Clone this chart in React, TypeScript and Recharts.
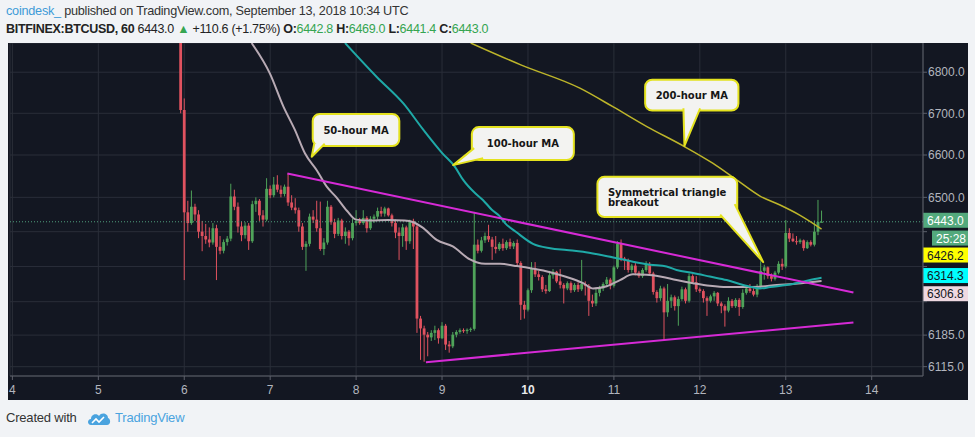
import React from 'react';
import {
  ComposedChart,
  Bar,
  Line,
  XAxis,
  YAxis,
  CartesianGrid,
  ReferenceLine,
  ReferenceDot,
} from 'recharts';

// hours are counted from Sep 4 00:00 UTC, one candle per hour
const dayLabels = ['4', '5', '6', '7', '8', '9', '10', '11', '12', '13', '14'];
const priceTicks = [6115, 6185, 6260, 6340, 6420, 6500, 6600, 6700, 6800];
// these labels sit under the price tags on the right, only their grid lines show
const coveredTicks = [6260, 6340, 6420];
const firstCandleHour = 47;

// [open, high, low, close]
const candles: number[][] = [
  [6960, 6965, 6700, 6708], [6708, 6736, 6309, 6465], [6465, 6492, 6420, 6440], [6440, 6516, 6436, 6478],
  [6478, 6485, 6445, 6460], [6460, 6470, 6405, 6420], [6420, 6445, 6375, 6410], [6410, 6438, 6392, 6402],
  [6402, 6430, 6384, 6395], [6395, 6440, 6390, 6428], [6428, 6436, 6309, 6385], [6385, 6410, 6368, 6376],
  [6376, 6402, 6370, 6396], [6396, 6410, 6388, 6404], [6404, 6532, 6398, 6502], [6502, 6518, 6470, 6478],
  [6478, 6488, 6418, 6432], [6432, 6444, 6398, 6412], [6412, 6442, 6404, 6434], [6434, 6440, 6378, 6398],
  [6398, 6492, 6394, 6484], [6484, 6500, 6466, 6492], [6492, 6496, 6445, 6458], [6458, 6470, 6432, 6448],
  [6448, 6545, 6444, 6520], [6520, 6528, 6498, 6505], [6505, 6548, 6500, 6530], [6530, 6552, 6512, 6518],
  [6518, 6528, 6500, 6508], [6508, 6530, 6502, 6525], [6525, 6556, 6480, 6488], [6488, 6505, 6470, 6476],
  [6476, 6498, 6462, 6470], [6470, 6476, 6420, 6432], [6432, 6440, 6378, 6385], [6385, 6398, 6330, 6392],
  [6392, 6462, 6386, 6455], [6455, 6470, 6440, 6448], [6448, 6492, 6420, 6428], [6428, 6490, 6376, 6380],
  [6380, 6405, 6366, 6395], [6395, 6492, 6390, 6478], [6478, 6482, 6436, 6442], [6442, 6450, 6405, 6415],
  [6415, 6452, 6410, 6446], [6446, 6450, 6402, 6410], [6410, 6430, 6392, 6420], [6420, 6424, 6388, 6405],
  [6405, 6450, 6400, 6440], [6440, 6470, 6434, 6445], [6445, 6452, 6436, 6440], [6440, 6470, 6436, 6452],
  [6452, 6456, 6418, 6428], [6428, 6456, 6424, 6450], [6450, 6460, 6440, 6455], [6455, 6476, 6448, 6468],
  [6468, 6478, 6455, 6462], [6462, 6478, 6455, 6474], [6474, 6476, 6455, 6458], [6458, 6462, 6432, 6440],
  [6440, 6448, 6405, 6418], [6418, 6430, 6355, 6410], [6410, 6438, 6385, 6430], [6430, 6434, 6378, 6398],
  [6398, 6448, 6392, 6445], [6445, 6450, 6380, 6432], [6432, 6438, 6190, 6222], [6222, 6228, 6130, 6200],
  [6200, 6206, 6126, 6186], [6186, 6192, 6138, 6180], [6180, 6196, 6172, 6190], [6190, 6206, 6174, 6196],
  [6196, 6200, 6166, 6178], [6178, 6214, 6176, 6206], [6206, 6210, 6152, 6164], [6164, 6172, 6146, 6160],
  [6160, 6192, 6156, 6186], [6186, 6196, 6180, 6192], [6192, 6200, 6188, 6196], [6196, 6200, 6190, 6194],
  [6194, 6200, 6188, 6197], [6197, 6202, 6192, 6199], [6199, 6466, 6195, 6390], [6390, 6402, 6370, 6376],
  [6376, 6408, 6372, 6400], [6400, 6418, 6394, 6410], [6410, 6436, 6396, 6402], [6402, 6408, 6355, 6385],
  [6385, 6410, 6370, 6380], [6380, 6396, 6376, 6392], [6392, 6404, 6376, 6382], [6382, 6400, 6378, 6396],
  [6396, 6404, 6380, 6386], [6386, 6398, 6380, 6394], [6394, 6402, 6340, 6348], [6348, 6352, 6219, 6253],
  [6253, 6262, 6222, 6242], [6242, 6290, 6238, 6286], [6286, 6350, 6280, 6336], [6336, 6350, 6316, 6322],
  [6322, 6330, 6308, 6316], [6316, 6320, 6282, 6288], [6288, 6298, 6278, 6284], [6284, 6330, 6282, 6320],
  [6320, 6334, 6312, 6328], [6328, 6330, 6302, 6306], [6306, 6334, 6290, 6298], [6298, 6302, 6256, 6290],
  [6290, 6306, 6286, 6302], [6302, 6306, 6280, 6286], [6286, 6302, 6282, 6298], [6298, 6304, 6282, 6288],
  [6288, 6355, 6284, 6300], [6300, 6306, 6274, 6296], [6296, 6300, 6228, 6262], [6262, 6276, 6248, 6256],
  [6256, 6292, 6250, 6280], [6280, 6296, 6272, 6290], [6290, 6304, 6284, 6300], [6300, 6316, 6294, 6310],
  [6310, 6314, 6288, 6296], [6296, 6342, 6292, 6338], [6338, 6398, 6334, 6392], [6392, 6402, 6352, 6358],
  [6358, 6362, 6332, 6354], [6354, 6358, 6326, 6332], [6332, 6346, 6326, 6342], [6342, 6350, 6320, 6326],
  [6326, 6330, 6314, 6318], [6318, 6336, 6314, 6332], [6332, 6352, 6328, 6346], [6346, 6350, 6320, 6324],
  [6324, 6328, 6276, 6282], [6282, 6286, 6258, 6268], [6268, 6296, 6262, 6290], [6290, 6294, 6174, 6236],
  [6236, 6300, 6226, 6262], [6262, 6276, 6246, 6270], [6270, 6274, 6240, 6250], [6250, 6272, 6206, 6266],
  [6266, 6294, 6262, 6288], [6288, 6292, 6256, 6262], [6262, 6324, 6258, 6318], [6318, 6322, 6300, 6304],
  [6304, 6318, 6282, 6288], [6288, 6292, 6280, 6284], [6284, 6288, 6258, 6268], [6268, 6272, 6228, 6262],
  [6262, 6276, 6258, 6272], [6272, 6284, 6262, 6280], [6280, 6282, 6250, 6256], [6256, 6260, 6234, 6250],
  [6250, 6254, 6204, 6240], [6240, 6270, 6236, 6262], [6262, 6266, 6246, 6250], [6250, 6268, 6246, 6264],
  [6264, 6268, 6228, 6248], [6248, 6288, 6244, 6280], [6280, 6294, 6276, 6290], [6290, 6300, 6280, 6284],
  [6284, 6290, 6272, 6276], [6276, 6300, 6270, 6294], [6294, 6352, 6290, 6330], [6330, 6344, 6310, 6338],
  [6338, 6340, 6312, 6318], [6318, 6324, 6306, 6312], [6312, 6330, 6308, 6326], [6326, 6352, 6322, 6346],
  [6346, 6358, 6332, 6340], [6340, 6447, 6336, 6417], [6417, 6428, 6396, 6404], [6404, 6416, 6396, 6398],
  [6398, 6410, 6390, 6396], [6396, 6404, 6392, 6400], [6400, 6402, 6376, 6382], [6382, 6400, 6380, 6396],
  [6396, 6400, 6386, 6390], [6390, 6446, 6386, 6420], [6420, 6494, 6412, 6442.8], [6442.8, 6469, 6441.4, 6443.0],
];

// moving averages, [hour, price]
const ma50: number[][] = [
  [66.8, 6872], [71.9, 6797], [75.7, 6716], [78.9, 6660], [81.7, 6604], [85.0, 6564], [87.8, 6525],
  [90.5, 6500], [93.5, 6468], [96, 6448], [100, 6446], [105, 6447], [109.5, 6446], [112, 6442],
  [114.5, 6430], [118.5, 6401], [123, 6386], [127.8, 6356], [131, 6347], [136.2, 6346], [140.9, 6341],
  [145.4, 6335], [150.2, 6327], [154.8, 6316], [159.4, 6302], [162.2, 6290], [166, 6295], [169.7, 6309],
  [173.3, 6322], [177.2, 6321], [180.9, 6317], [185.5, 6309], [190.1, 6302], [194.8, 6296], [199.5, 6293],
  [204.1, 6293], [208.8, 6294], [213.5, 6298], [218, 6300], [222.8, 6304], [226, 6306.8],
];
const ma100: number[][] = [
  [92.9, 6872], [101.7, 6789], [109.2, 6724], [114.8, 6660], [120.1, 6604], [123.6, 6572], [125.9, 6541],
  [129.2, 6510], [131.4, 6494], [133.9, 6471], [136.2, 6455], [137.6, 6440], [140.9, 6418], [145.4, 6392],
  [150.2, 6382], [154.8, 6378], [159.4, 6374], [164.1, 6367], [168.8, 6359], [173.3, 6351], [178.1, 6344],
  [182.7, 6340], [185.5, 6332], [190.1, 6325], [194.8, 6317], [199.5, 6309], [204.1, 6298], [208.8, 6290],
  [211.6, 6293], [218, 6300], [222.8, 6309], [226, 6314.3],
];
const ma200: number[][] = [
  [128, 6872], [142, 6818], [158.5, 6761], [167.7, 6716], [177.2, 6668], [187.3, 6622], [195.7, 6580],
  [202.3, 6541], [208.8, 6503], [214.4, 6482], [220, 6458], [226, 6426.2],
];
const triangleTop: number[][] = [[76.8, 6556], [234.9, 6281]];
const triangleBottom: number[][] = [[115.5, 6125], [234.9, 6213]];

const lastPrice = 6443.0;

const candleData = candles.map(([o, h, l, c], i) => ({ t: firstCandleHour + i, o, h, l, c, range: [l, h] }));
const toPoints = (rows: number[][]) => rows.map(([t, v]) => ({ t, v }));

const BG = '#131722';
const GRID = '#2a2e39';
const AXIS_TEXT = '#b2b5be';
const UP = '#4fa35a';
const DOWN = '#e0525f';

const Candle = (props: any) => {
  const { x, y, width, height } = props;
  const d = props.payload || props;
  const top = Math.min(y, y + height);
  const bottom = Math.max(y, y + height);
  const span = Math.log(d.h) - Math.log(d.l);
  const py = (p: number) => (span > 0 ? top + ((bottom - top) * (Math.log(d.h) - Math.log(p))) / span : top);
  const color = d.c >= d.o ? UP : DOWN;
  const bTop = py(Math.max(d.o, d.c));
  const bBot = py(Math.min(d.o, d.c));
  const cx = x + width / 2;
  return (
    <g>
      <line x1={cx} x2={cx} y1={top} y2={bottom} stroke={color} strokeWidth={1} />
      <rect x={cx - 1.4} y={bTop} width={2.8} height={Math.max(1, bBot - bTop)} fill={color} />
    </g>
  );
};

const DayTick = ({ x, y, payload }: any) => {
  const label = dayLabels[Math.round(payload.value / 24)];
  return (
    <text
      x={x}
      y={y + 12}
      textAnchor="middle"
      fill={label === '10' ? '#e8e9ec' : AXIS_TEXT}
      fontSize={12}
      fontWeight={label === '10' ? 'bold' : 'normal'}
      fontFamily="Liberation Sans, Arial, sans-serif"
    >
      {label}
    </text>
  );
};

const PriceTag = ({ viewBox, text, bg, fg, shift, inset = 0 }: any) => {
  const x = viewBox.x + viewBox.width + inset;
  const y = viewBox.y + shift;
  return (
    <g>
      <rect x={x} y={y - 7.5} width={45 - inset} height={15} fill={bg} />
      <text x={x + 4} y={y + 4.5} fontSize={12} fill={fg} fontFamily="Liberation Sans, Arial, sans-serif">
        {text}
      </text>
    </g>
  );
};

const notes = [
  { t: 83.6, p: 6596, box: [1, -42.7, 86.6, 32], tail: [[2.5, -13], [13, -13]], lines: ['50-hour MA'], left: 0 },
  { t: 123.1, p: 6576, box: [18.7, -38, 102, 33], tail: [[21, -17], [30, -7]], lines: ['100-hour MA'], left: 0 },
  { t: 187.7, p: 6622, box: [-39.3, -66, 93.3, 30.7], tail: [[-1, -37.5], [15.7, -37.5]], lines: ['200-hour MA'], left: 0 },
  {
    t: 209.7,
    p: 6350,
    box: [-165.8, -85.3, 139.8, 40.3],
    tail: [[-43, -47.5], [-28.5, -58]],
    lines: ['Symmetrical triangle', 'breakout'],
    left: -155.3,
  },
];

const Callout = ({ cx, cy, note }: any) => {
  const [bx, by, bw, bh] = note.box;
  const [a, b] = note.tail;
  const path = `M${cx + a[0]},${cy + a[1]} L${cx},${cy} L${cx + b[0]},${cy + b[1]}`;
  const n = note.lines.length;
  const midY = cy + by + bh / 2;
  return (
    <g>
      <rect x={cx + bx} y={cy + by} width={bw} height={bh} rx={7} fill="#f3f3f1" stroke="#e4e21e" strokeWidth={2} />
      <path d={path} fill="#f3f3f1" stroke="#e4e21e" strokeWidth={2} strokeLinejoin="round" />
      {note.lines.map((s: string, i: number) => (
        <text
          key={s}
          x={note.left ? cx + note.left : cx + bx + bw / 2}
          y={midY + (i - (n - 1) / 2) * 10 + 3.7}
          textAnchor={note.left ? 'start' : 'middle'}
          fontSize={10}
          fontWeight="bold"
          fill="#161616"
          fontFamily="DejaVu Sans, Verdana, sans-serif"
        >
          {s}
        </text>
      ))}
    </g>
  );
};

const headerFont = 'Liberation Sans, Arial, sans-serif';
const green = '#35a551';

const App: React.FC = () => {
  return (
    <div style={{ position: 'absolute', left: 0, top: 0, width: 975, height: 437, background: '#f1f3f6', overflow: 'hidden' }}>
      <div style={{ position: 'absolute', left: 6, top: 4, fontFamily: headerFont, fontSize: 12.7, letterSpacing: -0.25, color: '#333', whiteSpace: 'nowrap' }}>
        <span style={{ color: '#3e9bd8' }}>coindesk_</span> published on TradingView.com, September 13, 2018 10:34 UTC
      </div>
      <div style={{ position: 'absolute', left: 6, top: 22, fontFamily: headerFont, fontSize: 12.5, letterSpacing: -0.3, color: '#222', whiteSpace: 'nowrap' }}>
        <b>BITFINEX:BTCUSD, 60</b> 6443.0 <span style={{ color: green }}>▲</span> +110.6 (+1.75%) <b>O:</b>
        <span style={{ color: green }}>6442.8</span> <b>H:</b>
        <span style={{ color: green }}>6469.0</span> <b>L:</b>
        <span style={{ color: green }}>6441.4</span> <b>C:</b>
        <span style={{ color: green }}>6443.0</span>
      </div>

      <div style={{ position: 'absolute', left: 8, top: 43, width: 960, height: 357, background: BG }}>
        <ComposedChart width={960} height={357} data={candleData} margin={{ top: 0, right: 0, bottom: 0, left: 2 }}>
          <CartesianGrid stroke={GRID} strokeWidth={1} />
          <XAxis
            type="number"
            dataKey="t"
            domain={[-0.67, 254.33]}
            allowDataOverflow
            ticks={dayLabels.map((_, i) => i * 24)}
            interval={0}
            tick={<DayTick />}
            tickSize={4}
            height={24}
            axisLine={{ stroke: '#5d606b' }}
            tickLine={{ stroke: '#5d606b' }}
          />
          <YAxis
            orientation="right"
            scale="log"
            domain={[6094.5, 6872]}
            allowDataOverflow
            ticks={priceTicks}
            interval={0}
            width={45}
            tickSize={4}
            tickMargin={1}
            tickFormatter={(v: number) => (coveredTicks.includes(v) ? '' : v.toFixed(1))}
            tick={{ fill: AXIS_TEXT, fontSize: 12, fontFamily: headerFont, textAnchor: 'start' }}
            axisLine={{ stroke: '#5d606b' }}
            tickLine={{ stroke: '#5d606b' }}
          />
          <ReferenceLine y={lastPrice} stroke="#4f9f7c" strokeDasharray="1 2" />
          <Bar dataKey="range" barSize={3} shape={<Candle />} isAnimationActive={false} />
          <Line data={toPoints(ma50)} dataKey="v" type="monotone" stroke="#b8aab4" strokeWidth={2} dot={false} isAnimationActive={false} />
          <Line data={toPoints(ma100)} dataKey="v" type="monotone" stroke="#1fa9a7" strokeWidth={2} dot={false} isAnimationActive={false} />
          <Line data={toPoints(ma200)} dataKey="v" type="monotone" stroke="#bdb52a" strokeWidth={1.5} dot={false} isAnimationActive={false} />
          <Line data={toPoints(triangleTop)} dataKey="v" type="linear" stroke="#d62ad6" strokeWidth={2} dot={false} isAnimationActive={false} />
          <Line data={toPoints(triangleBottom)} dataKey="v" type="linear" stroke="#d62ad6" strokeWidth={2} dot={false} isAnimationActive={false} />
          {notes.map((n) => (
            <ReferenceDot key={n.lines[0]} x={n.t} y={n.p} r={0} ifOverflow="visible" shape={(p: any) => <Callout {...p} note={n} />} />
          ))}
          <ReferenceLine y={lastPrice} stroke="none" label={<PriceTag text="6443.0" bg="#53a97c" fg="#ffffff" shift={-1.5} />} />
          <ReferenceLine y={lastPrice} stroke="none" label={<PriceTag text="25:28" bg="#53a97c" fg="#ffffff" shift={16.3} inset={9} />} />
          <ReferenceLine y={6426.2} stroke="none" label={<PriceTag text="6426.2" bg="#ffff00" fg="#131722" shift={26} />} />
          <ReferenceLine y={6314.3} stroke="none" label={<PriceTag text="6314.3" bg="#00ffff" fg="#131722" shift={-2.2} />} />
          <ReferenceLine y={6306.8} stroke="none" label={<PriceTag text="6306.8" bg="#efd9e1" fg="#131722" shift={12.7} />} />
        </ComposedChart>
      </div>

      <div style={{ position: 'absolute', left: 6, top: 410, fontFamily: headerFont, fontSize: 13, letterSpacing: -0.2, color: '#333', whiteSpace: 'nowrap' }}>
        Created with
      </div>
      <svg style={{ position: 'absolute', left: 87, top: 411 }} width={24} height={16}>
        <path d="M4 14 C0 14 0 8 4 8 C4 3 10 2 12 5 C14 1 21 2 21 7 C24 8 24 14 20 14 Z" fill="#4aa3df" />
        <path d="M5 12 L9 8 L12 11 L17 6" stroke="#ffffff" strokeWidth={1.6} fill="none" />
      </svg>
      <div style={{ position: 'absolute', left: 115, top: 410, fontFamily: headerFont, fontSize: 13, letterSpacing: -0.2, color: '#4aa3df', whiteSpace: 'nowrap' }}>
        TradingView
      </div>
    </div>
  );
};

export default App;
